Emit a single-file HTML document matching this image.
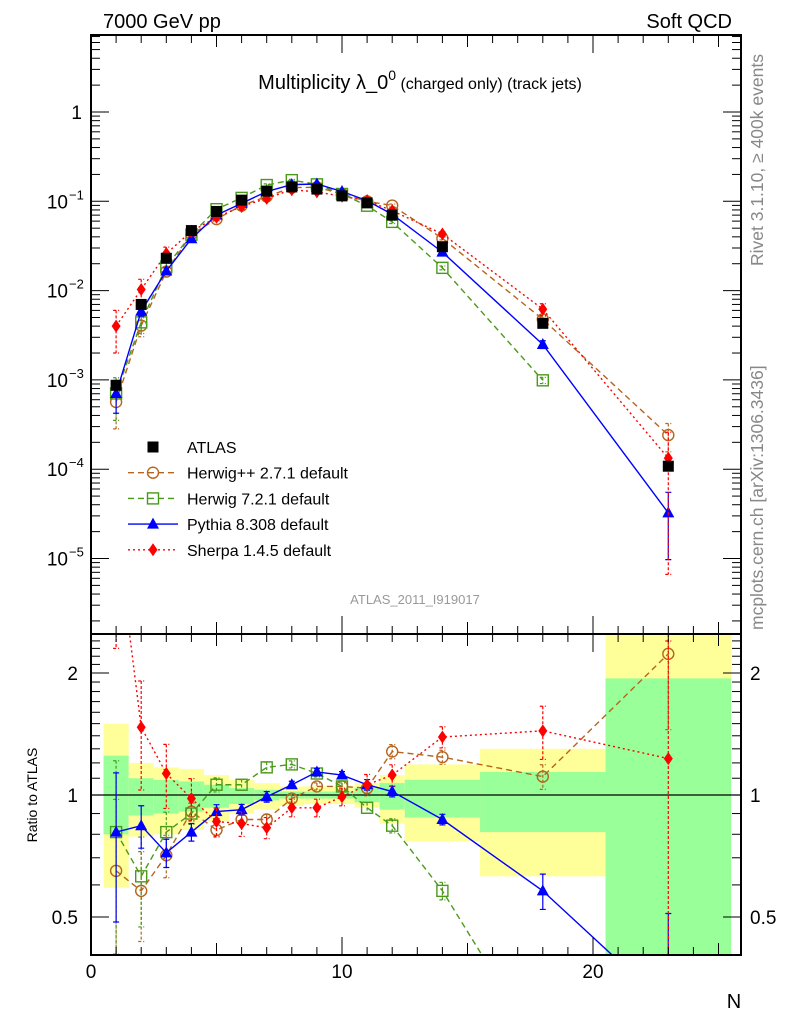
<!DOCTYPE html>
<html><head><meta charset="utf-8">
<style>
html,body{margin:0;padding:0;background:#fff;width:786px;height:1024px;overflow:hidden;}
svg{display:block;font-family:"Liberation Sans",sans-serif;overflow:hidden;}
</style></head>
<body>
<svg id="chart" width="786" height="1024" viewBox="0 0 786 1024" xmlns="http://www.w3.org/2000/svg">
<rect x="0" y="0" width="786" height="1024" fill="#fff"/>
<g id="bands"></g>
<g id="series"></g>
<g id="axes"></g>
<text x="103" y="28" font-size="20">7000 GeV pp</text>
<text x="732" y="28" font-size="20" text-anchor="end">Soft QCD</text>
<text x="420" y="89" font-size="20" text-anchor="middle">Multiplicity λ_0<tspan font-size="14" dy="-9">0</tspan><tspan font-size="16" dy="9"> (charged only) (track jets)</tspan></text>
<text transform="translate(763,266) rotate(-90)" font-size="17.5" fill="#888">Rivet 3.1.10, ≥ 400k events</text>
<text transform="translate(763,630) rotate(-90)" font-size="17.5" fill="#888">mcplots.cern.ch [arXiv:1306.3436]</text>
<text x="415" y="604" font-size="13" fill="#999" text-anchor="middle">ATLAS_2011_I919017</text>
<text transform="translate(37,795) rotate(-90)" font-size="14" text-anchor="middle">Ratio to ATLAS</text>
<text x="734" y="1008" font-size="20" text-anchor="middle">N</text>
<g id="legend"></g>
</svg>
<script>
// ---- data ----
const nVals = [1,2,3,4,5,6,7,8,9,10,11,12,14,18,23];
const atlasVals = [8.7e-4,7.0e-3,0.023,0.047,0.077,0.103,0.13,0.145,0.137,0.115,0.096,0.070,0.031,0.0043,1.08e-4];
const herwigppRatio = [0.65,0.58,0.71,0.91,0.82,0.87,0.87,0.98,1.05,1.05,1.04,1.28,1.24,1.11,2.23];
const herwig7Ratio = [0.81,0.63,0.81,0.90,1.06,1.06,1.17,1.19,1.13,1.05,0.93,0.84,0.58,0.23];
const pythiaRatio = [0.81,0.84,0.72,0.81,0.91,0.92,0.99,1.06,1.14,1.12,1.06,1.02,0.87,0.58,0.30];
const sherpaRatio = [4.6,1.47,1.13,0.98,0.86,0.85,0.83,0.93,0.93,0.99,1.06,1.12,1.39,1.44,1.23];
// relative statistical errors of the models
const herwigppErr = [0.5,0.25,0.12,0.05,0.04,0.03,0.03,0.02,0.02,0.02,0.03,0.04,0.04,0.07,0.35];
const herwig7Err = [0.5,0.25,0.12,0.06,0.04,0.03,0.03,0.02,0.02,0.02,0.03,0.04,0.05,0.08,0];
const pythiaErr = [0.4,0.12,0.08,0.05,0.04,0.03,0.03,0.02,0.02,0.02,0.03,0.03,0.03,0.1,0.7];
const sherpaErr = [0.5,0.3,0.18,0.12,0.08,0.07,0.06,0.05,0.05,0.05,0.06,0.06,0.06,0.15,0.95];
const binLo = [0.5,1.5,2.5,3.5,4.5,5.5,6.5,7.5,8.5,9.5,10.5,11.5,12.5,15.5,20.5];
const binHi = [1.5,2.5,3.5,4.5,5.5,6.5,7.5,8.5,9.5,10.5,11.5,12.5,15.5,20.5,25.5];
const yellowHi = [1.5,1.2,1.17,1.16,1.12,1.09,1.07,1.05,1.05,1.05,1.07,1.12,1.19,1.3,3.0];
const yellowLo = [0.59,0.79,0.8,0.82,0.86,0.9,0.92,0.94,0.95,0.95,0.93,0.85,0.77,0.63,0.3];
const greenHi = [1.25,1.1,1.09,1.08,1.06,1.04,1.03,1.02,1.02,1.02,1.04,1.07,1.09,1.14,1.94];
const greenLo = [0.8,0.89,0.9,0.91,0.93,0.95,0.97,0.98,0.98,0.98,0.96,0.92,0.88,0.81,0.3];
const xTickLabels = ["0","10","20"];
const ratioTickVals = [0.5,1,2];

// ---- geometry ----
const L=91,R=741,T=35,MB=634,RB=955;
const xs = v => L + (v)*25.1;
const ys = v => 112 - 89.3*Math.log10(v);
const yr = v => 795 - 122*Math.log2(v);
const NS="http://www.w3.org/2000/svg";
function mk(tag,attrs,parent){const e=document.createElementNS(NS,tag);for(const k in attrs)e.setAttribute(k,attrs[k]);parent.appendChild(e);return e;}
const bands=document.getElementById('bands'), series=document.getElementById('series'), axes=document.getElementById('axes'), legend=document.getElementById('legend');
const clipV=(y,a,b)=>Math.max(a,Math.min(b,y));

for(let i=0;i<binLo.length;i++){
  const x0=xs(binLo[i]), x1=xs(binHi[i]);
  const yy0=clipV(yr(yellowHi[i]),MB,RB), yy1=clipV(yr(yellowLo[i]),MB,RB);
  const r1=mk('rect',{x:x0,y:yy0,width:x1-x0,height:yy1-yy0,fill:'#ffff99'},bands);
  
  
  const g0=clipV(yr(greenHi[i]),MB,RB), g1=clipV(yr(greenLo[i]),MB,RB);
  const r2=mk('rect',{x:x0,y:g0,width:x1-x0,height:g1-g0,fill:'#99ff99'},bands);
  
  
}
mk('line',{x1:L,x2:R,y1:795,y2:795,stroke:'#000','stroke-width':1.2},bands);

function marker(type,x,y,color,g){
  let e;
  if(type==='square') e=mk('rect',{x:x-5.5,y:y-5.5,width:11,height:11,fill:'#000'},g);
  else if(type==='circle') e=mk('circle',{cx:x,cy:y,r:5.5,fill:'none',stroke:color,'stroke-width':1.4},g);
  else if(type==='osquare') e=mk('rect',{x:x-5.5,y:y-5.5,width:11,height:11,fill:'none',stroke:color,'stroke-width':1.4},g);
  else if(type==='tri') e=mk('polygon',{points:`${x},${y-6.5} ${x-6},${y+4.5} ${x+6},${y+4.5}`,fill:color},g);
  else e=mk('polygon',{points:`${x},${y-6.5} ${x-4.5},${y} ${x},${y+6.5} ${x+4.5},${y}`,fill:color},g);
  return e;
}
const models=[
 {name:'herwigpp',ratio:herwigppRatio,err:herwigppErr,color:'#b5651d',dash:'6,4',m:'circle',label:'Herwig++ 2.7.1 default'},
 {name:'herwig7',ratio:herwig7Ratio,err:herwig7Err,color:'#4a9a1a',dash:'6,4',m:'osquare',label:'Herwig 7.2.1 default'},
 {name:'pythia',ratio:pythiaRatio,err:pythiaErr,color:'#0000ff',dash:'',m:'tri',label:'Pythia 8.308 default'},
 {name:'sherpa',ratio:sherpaRatio,err:sherpaErr,color:'#ff0000',dash:'2,3',m:'diamond',label:'Sherpa 1.4.5 default'}
];
const defs=mk('defs',{},document.getElementById('chart'));
const c1=mk('clipPath',{id:'cm'},defs); mk('rect',{x:L,y:T,width:R-L,height:MB-T},c1);
const c2=mk('clipPath',{id:'cr'},defs); mk('rect',{x:L,y:MB,width:R-L,height:RB-MB},c2);
const gm=mk('g',{'clip-path':'url(#cm)'},series), gr=mk('g',{'clip-path':'url(#cr)'},series);

models.forEach(md=>{
  const mainPts=md.ratio.map((r,i)=>[xs(nVals[i]),ys(atlasVals[i]*r)]);
  const ratPts=md.ratio.map((r,i)=>[xs(nVals[i]),yr(r)]);
  const mainErr=md.ratio.map((r,i)=>[ys(atlasVals[i]*r*(1+md.err[i])),clipV(ys(atlasVals[i]*r*Math.max(1e-3,1-md.err[i])),T,MB)]);
  const ratErr=md.ratio.map((r,i)=>[clipV(yr(r*(1+md.err[i])),MB,RB),clipV(yr(r*Math.max(1e-3,1-md.err[i])),MB,RB)]);
  [[mainPts,mainErr,gm,'main'],[ratPts,ratErr,gr,'ratio']].forEach(([pts,errs,g,tag])=>{
    const pl=mk('polyline',{points:pts.map(p=>p.join(',')).join(' '),fill:'none',stroke:md.color,'stroke-width':1.4,'stroke-dasharray':md.dash},g);
    
    
    pts.forEach((p,i)=>{
      if(md.err[i]>0){
        const eb=mk('path',{d:`M${p[0]},${errs[i][0]}V${errs[i][1]}M${p[0]-3},${errs[i][0]}h6M${p[0]-3},${errs[i][1]}h6`,stroke:md.color,'stroke-width':1.2,fill:'none','stroke-dasharray':md.dash?'3,2':''},g);
        
        
      }
      const e=marker(md.m,p[0],p[1],md.color,g);
      
      
    });
  });
});
atlasVals.forEach((v,i)=>{
  const e=marker('square',xs(nVals[i]),ys(v),'#000',gm);
  
  
});

mk('rect',{x:L,y:T,width:R-L,height:MB-T,fill:'none',stroke:'#000','stroke-width':2},axes);
mk('rect',{x:L,y:MB,width:R-L,height:RB-MB,fill:'none',stroke:'#000','stroke-width':2},axes);
for(let n=1;n<=25;n++){
  const x=xs(n), len=(n%10===0)?18:(n%5===0?12:8);
  [[T,1],[MB,-1],[MB,1],[RB,-1]].forEach(([y,d])=>mk('line',{x1:x,x2:x,y1:y,y2:y+d*len,stroke:'#000','stroke-width':1},axes));
}
xTickLabels.forEach((t,i)=>{
  const e=mk('text',{x:xs(i*10),y:978,'font-size':19,'text-anchor':'middle'},axes);
  e.textContent=t;
  
  
});
for(let d=-6;d<=1;d++){
  for(let k=1;k<10;k++){
    const v=k*Math.pow(10,d), y=ys(v);
    if(y<T||y>MB) continue;
    const len=k===1?18:9;
    mk('line',{x1:L,x2:L+len,y1:y,y2:y,stroke:'#000','stroke-width':1},axes);
    mk('line',{x1:R,x2:R-len,y1:y,y2:y,stroke:'#000','stroke-width':1},axes);
  }
}
const mainLabels=[[0,'1'],[-1,'10'],[-2,'10'],[-3,'10'],[-4,'10'],[-5,'10']];
mainLabels.forEach(([d,t])=>{
  const y=ys(Math.pow(10,d));
  const e=mk('text',{x:d===0?82:68,y:y+7,'font-size':19,'text-anchor':'end'},axes);
  e.textContent=t;
  
  
  if(d!==0){const s=mk('text',{x:69,y:y-2,'font-size':13},axes);s.textContent='−'+(-d);}
});
[0.4,0.5,0.6,0.7,0.8,0.9,1,1.1,1.2,1.3,1.4,1.5,1.6,1.7,1.8,1.9,2,2.1,2.2,2.3,2.4].forEach(v=>{
  const y=yr(v); if(y<MB||y>RB) return;
  const len=(v===0.5||v===1||v===2)?18:9;
  mk('line',{x1:L,x2:L+len,y1:y,y2:y,stroke:'#000','stroke-width':1},axes);
  mk('line',{x1:R,x2:R-len,y1:y,y2:y,stroke:'#000','stroke-width':1},axes);
});
ratioTickVals.forEach(v=>{
  const y=yr(v);
  const a=mk('text',{x:78,y:y+7,'font-size':19,'text-anchor':'end'},axes);a.textContent=String(v);
  
  
  const b=mk('text',{x:750,y:y+7,'font-size':19},axes);b.textContent=String(v);
  
  
});

const ly0=447, ldy=25.7;
const la=marker('square',153,ly0,'#000',legend);


const lt=mk('text',{x:187,y:ly0+6,'font-size':16},legend);lt.textContent='ATLAS';


models.forEach((md,i)=>{
  const y=ly0+ldy*(i+1);
  mk('line',{x1:128,x2:178,y1:y,y2:y,stroke:md.color,'stroke-width':1.4,'stroke-dasharray':md.dash},legend);
  marker(md.m,153,y,md.color,legend);
  const t=mk('text',{x:187,y:y+6,'font-size':16},legend);t.textContent=md.label;
  
  
});
</script>
</body></html>
